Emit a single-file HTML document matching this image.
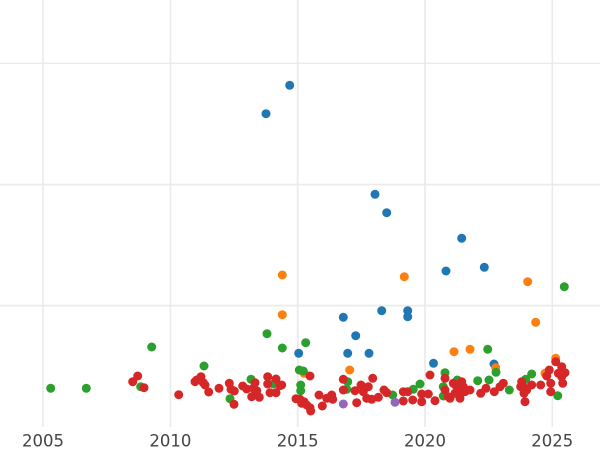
<!DOCTYPE html>
<html><head><meta charset="utf-8"><style>
html,body{margin:0;padding:0;background:#fff;}
svg{display:block;}
</style></head><body>
<svg width="600" height="450" viewBox="0 0 600 450" xmlns="http://www.w3.org/2000/svg">
<rect width="600" height="450" fill="#fff"/>
<g stroke="#ebebeb" fill="none">
<line x1="0" y1="63.3" x2="600" y2="63.3" stroke-width="1.3"/>
<line x1="0" y1="184.6" x2="600" y2="184.6" stroke-width="1.8"/>
<line x1="0" y1="305.6" x2="600" y2="305.6" stroke-width="1.8"/>
<line x1="43" y1="0" x2="43" y2="427" stroke-width="1.6"/>
<line x1="170.4" y1="0" x2="170.4" y2="427" stroke-width="1.6"/>
<line x1="297.7" y1="0" x2="297.7" y2="427" stroke-width="1.8"/>
<line x1="425" y1="0" x2="425" y2="427" stroke-width="1.8"/>
<line x1="552.3" y1="0" x2="552.3" y2="427" stroke-width="1.6"/>
</g>
<g font-family="DejaVu Sans, Liberation Sans, sans-serif" font-size="16.5" fill="#444" text-anchor="middle">
<text x="43" y="446.5">2005</text>
<text x="170.4" y="446.5">2010</text>
<text x="297.7" y="446.5">2015</text>
<text x="425" y="446.5">2020</text>
<text x="552.3" y="446.5">2025</text>
</g>
<g fill="#1f77b4">
<circle cx="289.7" cy="85.3" r="4.5"/><circle cx="266" cy="113.7" r="4.5"/><circle cx="375" cy="194.3" r="4.5"/><circle cx="386.7" cy="212.7" r="4.5"/><circle cx="461.7" cy="238.3" r="4.5"/><circle cx="446" cy="271" r="4.5"/><circle cx="484.3" cy="267.3" r="4.5"/><circle cx="381.7" cy="310.7" r="4.5"/><circle cx="407.7" cy="310.7" r="4.5"/><circle cx="407.7" cy="316.7" r="4.5"/><circle cx="343.3" cy="317.3" r="4.5"/><circle cx="355.7" cy="335.7" r="4.5"/><circle cx="298.7" cy="353.3" r="4.5"/><circle cx="347.7" cy="353.3" r="4.5"/><circle cx="369" cy="353.3" r="4.5"/><circle cx="433.5" cy="363.3" r="4.5"/><circle cx="494" cy="364" r="4.5"/>
</g>
<g fill="#ff7f0e">
<circle cx="282.3" cy="275" r="4.5"/><circle cx="404.3" cy="276.7" r="4.5"/><circle cx="527.7" cy="281.7" r="4.5"/><circle cx="282.3" cy="314.7" r="4.5"/><circle cx="535.7" cy="322.3" r="4.5"/><circle cx="454" cy="351.7" r="4.5"/><circle cx="470" cy="349.3" r="4.5"/><circle cx="349.7" cy="370" r="4.5"/><circle cx="304" cy="373.3" r="4.5"/><circle cx="495.7" cy="367.7" r="4.5"/><circle cx="545" cy="373.3" r="4.5"/><circle cx="555.7" cy="358.3" r="4.5"/>
</g>
<g fill="#2ca02c">
<circle cx="50.7" cy="388.3" r="4.5"/><circle cx="86.3" cy="388.3" r="4.5"/><circle cx="151.7" cy="347" r="4.5"/><circle cx="140.7" cy="386.7" r="4.5"/><circle cx="204" cy="366" r="4.5"/><circle cx="230" cy="398.7" r="4.5"/><circle cx="251" cy="379.3" r="4.5"/><circle cx="273.3" cy="384" r="4.5"/><circle cx="267" cy="333.7" r="4.5"/><circle cx="282.3" cy="348" r="4.5"/><circle cx="305.7" cy="342.7" r="4.5"/><circle cx="299.3" cy="370" r="4.5"/><circle cx="303.3" cy="371" r="4.5"/><circle cx="300.7" cy="385" r="4.5"/><circle cx="300.7" cy="390.7" r="4.5"/><circle cx="347.7" cy="381.7" r="4.5"/><circle cx="346.7" cy="389.3" r="4.5"/><circle cx="392.7" cy="395" r="4.5"/><circle cx="413.3" cy="389.3" r="4.5"/><circle cx="420" cy="384" r="4.5"/><circle cx="445" cy="372.7" r="4.5"/><circle cx="443.3" cy="386.7" r="4.5"/><circle cx="443.3" cy="396" r="4.5"/><circle cx="487.7" cy="349.3" r="4.5"/><circle cx="496" cy="372.3" r="4.5"/><circle cx="457.3" cy="380" r="4.5"/><circle cx="477.7" cy="380.7" r="4.5"/><circle cx="489" cy="380" r="4.5"/><circle cx="509.3" cy="390" r="4.5"/><circle cx="525.7" cy="379.3" r="4.5"/><circle cx="531.7" cy="374" r="4.5"/><circle cx="557.7" cy="395.7" r="4.5"/><circle cx="564.3" cy="286.7" r="4.5"/>
</g>
<g fill="#d62728">
<circle cx="137.7" cy="376" r="4.5"/><circle cx="132.7" cy="381.7" r="4.5"/><circle cx="144" cy="387.7" r="4.5"/><circle cx="178.7" cy="394.7" r="4.5"/><circle cx="196.7" cy="380" r="4.5"/><circle cx="201" cy="376.7" r="4.5"/><circle cx="203.3" cy="382.7" r="4.5"/><circle cx="195" cy="381.7" r="4.5"/><circle cx="205" cy="385" r="4.5"/><circle cx="208.7" cy="392" r="4.5"/><circle cx="219" cy="388.3" r="4.5"/><circle cx="229.3" cy="383.3" r="4.5"/><circle cx="231" cy="389.3" r="4.5"/><circle cx="234.3" cy="391" r="4.5"/><circle cx="234" cy="404.3" r="4.5"/><circle cx="242.7" cy="386" r="4.5"/><circle cx="246.7" cy="389" r="4.5"/><circle cx="255" cy="382.7" r="4.5"/><circle cx="253.3" cy="388.3" r="4.5"/><circle cx="256.7" cy="390.7" r="4.5"/><circle cx="251.7" cy="396.7" r="4.5"/><circle cx="259.3" cy="397.3" r="4.5"/><circle cx="267.7" cy="376.7" r="4.5"/><circle cx="267.7" cy="384" r="4.5"/><circle cx="276" cy="379" r="4.5"/><circle cx="280" cy="385.7" r="4.5"/><circle cx="270" cy="392.7" r="4.5"/><circle cx="276" cy="392.7" r="4.5"/><circle cx="281.7" cy="385" r="4.5"/><circle cx="296" cy="398.7" r="4.5"/><circle cx="300" cy="399.3" r="4.5"/><circle cx="304" cy="401.7" r="4.5"/><circle cx="306.7" cy="405" r="4.5"/><circle cx="310" cy="407.7" r="4.5"/><circle cx="310.7" cy="411" r="4.5"/><circle cx="301.7" cy="403.3" r="4.5"/><circle cx="310" cy="376" r="4.5"/><circle cx="319" cy="395" r="4.5"/><circle cx="322.3" cy="406" r="4.5"/><circle cx="326.7" cy="398.3" r="4.5"/><circle cx="331.7" cy="395" r="4.5"/><circle cx="332.7" cy="399.3" r="4.5"/><circle cx="343.3" cy="379.3" r="4.5"/><circle cx="343.3" cy="390" r="4.5"/><circle cx="356.7" cy="402.7" r="4.5"/><circle cx="355" cy="390.7" r="4.5"/><circle cx="361" cy="385" r="4.5"/><circle cx="363.3" cy="391.7" r="4.5"/><circle cx="368.3" cy="386.7" r="4.5"/><circle cx="366.7" cy="398.3" r="4.5"/><circle cx="372.7" cy="378.3" r="4.5"/><circle cx="371.7" cy="399.3" r="4.5"/><circle cx="378.3" cy="397.3" r="4.5"/><circle cx="384" cy="390" r="4.5"/><circle cx="386.7" cy="392.7" r="4.5"/><circle cx="403.3" cy="391.7" r="4.5"/><circle cx="407.7" cy="391.7" r="4.5"/><circle cx="403.3" cy="401" r="4.5"/><circle cx="412.7" cy="400" r="4.5"/><circle cx="421.7" cy="394" r="4.5"/><circle cx="421.7" cy="401.7" r="4.5"/><circle cx="428.3" cy="394" r="4.5"/><circle cx="435" cy="400.7" r="4.5"/><circle cx="430" cy="375" r="4.5"/><circle cx="445" cy="378.3" r="4.5"/><circle cx="445" cy="390" r="4.5"/><circle cx="448.3" cy="396.7" r="4.5"/><circle cx="450" cy="398.3" r="4.5"/><circle cx="453.3" cy="383.3" r="4.5"/><circle cx="456.7" cy="386.7" r="4.5"/><circle cx="461.7" cy="381.7" r="4.5"/><circle cx="463.3" cy="386.7" r="4.5"/><circle cx="465" cy="391.7" r="4.5"/><circle cx="460" cy="398.3" r="4.5"/><circle cx="470" cy="390" r="4.5"/><circle cx="458.3" cy="391.7" r="4.5"/><circle cx="455" cy="393.3" r="4.5"/><circle cx="480.7" cy="393.3" r="4.5"/><circle cx="486" cy="388.3" r="4.5"/><circle cx="494.3" cy="391.7" r="4.5"/><circle cx="500" cy="386.7" r="4.5"/><circle cx="503.3" cy="383.3" r="4.5"/><circle cx="521.7" cy="381.7" r="4.5"/><circle cx="523.3" cy="386.7" r="4.5"/><circle cx="526.7" cy="390" r="4.5"/><circle cx="520.7" cy="386.7" r="4.5"/><circle cx="524" cy="393.3" r="4.5"/><circle cx="525" cy="401.7" r="4.5"/><circle cx="531.7" cy="385" r="4.5"/><circle cx="540.7" cy="385" r="4.5"/><circle cx="546.7" cy="376" r="4.5"/><circle cx="549.3" cy="370" r="4.5"/><circle cx="555.7" cy="361.7" r="4.5"/><circle cx="550.7" cy="383.3" r="4.5"/><circle cx="550.7" cy="391.7" r="4.5"/><circle cx="561.7" cy="366.7" r="4.5"/><circle cx="565" cy="372.7" r="4.5"/><circle cx="561.7" cy="376.7" r="4.5"/><circle cx="562.7" cy="383.3" r="4.5"/><circle cx="558.3" cy="373.3" r="4.5"/>
</g>
<g fill="#9467bd">
<circle cx="343.3" cy="404" r="4.5"/><circle cx="395" cy="402.3" r="4.5"/>
</g>
</svg>
</body></html>
